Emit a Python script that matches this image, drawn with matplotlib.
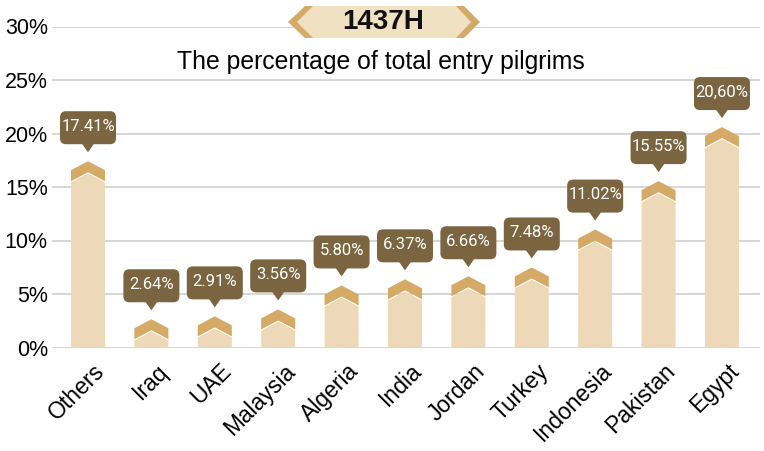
import matplotlib
matplotlib.use("Agg")
import matplotlib.pyplot as plt
from matplotlib.patches import Polygon, FancyBboxPatch
from matplotlib.transforms import Affine2D, ScaledTranslation

categories = ["Others", "Iraq", "UAE", "Malaysia", "Algeria", "India", "Jordan",
              "Turkey", "Indonesia", "Pakistan", "Egypt"]
values = [17.41, 2.64, 2.91, 3.56, 5.80, 6.37, 6.66, 7.48, 11.02, 15.55, 20.60]
value_labels = ["17.41%", "2.64%", "2.91%", "3.56%", "5.80%", "6.37%", "6.66%",
                "7.48%", "11.02%", "15.55%", "20,60%"]
yticks = [0, 5, 10, 15, 20, 25, 30]
ytick_labels = ["0%", "5%", "10%", "15%", "20%", "25%", "30%"]
title_text = "1437H"
subtitle_text = "The percentage of total entry pilgrims"

LIGHT = "#EDD9B8"
DARK = "#D4AA66"
CALLOUT = "#7B6541"
TITLE_FILL = "#F1E1C3"
GRID = "#CFCFCF"

W, H = 764, 451
fig = plt.figure(figsize=(W / 100, H / 100), dpi=100)
ax = fig.add_axes([52 / W, 1 - 347.5 / H, (760 - 52) / W, (347.5 - 26.5) / H])
ax.set_xlim(-0.568, 10.6)
ax.set_ylim(0, 30)
for s in ax.spines.values():
    s.set_visible(False)
ax.set_axisbelow(True)
ax.yaxis.grid(True, color=GRID, linewidth=1.2)
ax.set_yticks(yticks)
ax.set_yticklabels(ytick_labels, family="Liberation Sans", fontsize=15.5)
ax.tick_params(axis="y", length=0, pad=3)
ax.set_xticks(range(len(categories)))
ax.set_xticklabels(categories, family="Liberation Sans", fontsize=16.5,
                   rotation=45, ha="right", va="top", rotation_mode="anchor")
ax.tick_params(axis="x", length=0, pad=0)
for lab in ax.get_xticklabels():
    lab.set_transform(lab.get_transform() + ScaledTranslation(5 / 100, -12 / 100, fig.dpi_scale_trans))

# pixel -> data conversions
ppx = ax.bbox.width / (ax.get_xlim()[1] - ax.get_xlim()[0])
ppy = ax.bbox.height / 30.0
hw = 17 / ppx
drop = 9 / ppy
thick = 11 / ppy
gap = 1.2 / ppy

for i, v in enumerate(values):
    c = i
    light = Polygon([(c - hw, 0), (c - hw, v - drop - thick - gap), (c, v - thick - gap),
                     (c + hw, v - drop - thick - gap), (c + hw, 0)],
                    closed=True, facecolor=LIGHT, edgecolor="none", zorder=2)
    ax.add_patch(light)
    dark = Polygon([(c - hw, v - drop), (c, v), (c + hw, v - drop),
                    (c + hw, v - drop - thick), (c, v - thick), (c - hw, v - drop - thick)],
                   closed=True, facecolor=DARK, edgecolor="none", zorder=3)
    ax.add_patch(dark)
    # callout in pixel offsets relative to the bar apex
    tr = Affine2D() + ScaledTranslation(c, v, ax.transData)
    box = FancyBboxPatch((-28, 17), 56, 33, boxstyle="round,pad=0,rounding_size=6",
                         facecolor=CALLOUT, edgecolor="none", transform=tr, zorder=4,
                         clip_on=False)
    ax.add_patch(box)
    tri = Polygon([(-6, 17.5), (6, 17.5), (0, 9)], closed=True, facecolor=CALLOUT,
                  edgecolor="none", transform=tr, zorder=4, clip_on=False)
    ax.add_patch(tri)
    ax.text(0, 35, value_labels[i], transform=tr, ha="center", va="center",
            color="white", fontsize=12, family="Roboto",
            zorder=5, clip_on=False)


def fp(pts):
    return [(x / W, 1 - y / H) for x, y in pts]


outer = Polygon(fp([(288, 22), (305, 6), (464, 6), (480, 22), (464, 38), (305, 38)]),
                closed=True, facecolor=DARK, edgecolor="none", transform=fig.transFigure)
inner = Polygon(fp([(297, 22), (313, 6), (456, 6), (471, 22), (456, 38), (313, 38)]),
                closed=True, facecolor=TITLE_FILL, edgecolor="none", transform=fig.transFigure)
fig.patches.extend([outer, inner])
fig.text(383 / W, 1 - 22 / H, title_text, ha="center", va="center", fontsize=20,
         fontweight="bold", family="Liberation Sans", color="#111111")
fig.text(381 / W, 1 - 62 / H, subtitle_text, ha="center", va="center", fontsize=17.8,
         family="Liberation Sans", color="black")

fig.savefig("out.png", dpi=100)
